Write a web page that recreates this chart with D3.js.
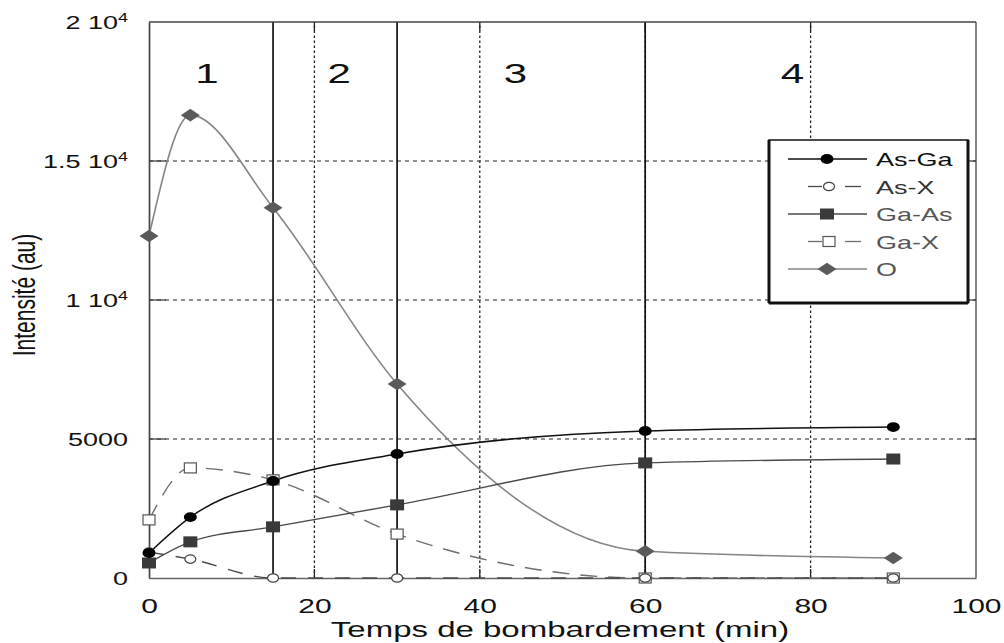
<!DOCTYPE html>
<html>
<head>
<meta charset="utf-8">
<script src="https://cdn.jsdelivr.net/npm/d3@7"></script>
<style>
  html, body { margin: 0; padding: 0; background: #fff; }
  svg { display: block; font-family: "Liberation Sans", Arial, Helvetica, sans-serif; }
</style>
</head>
<body>
<svg id="chart" width="1004" height="643"></svg>
<script>
// Bombardment time (min) at which each intensity was measured
const times = [0, 5, 15, 30, 60, 90];

// Intensities (au) per bond type
const asGa = [900, 2190, 3490, 4460, 5290, 5430];
const asX  = [930, 680, 0, 0, 0, 0];
const gaAs = [540, 1300, 1840, 2630, 4140, 4280];
const gaX  = [2090, 3960, 3530, 1580, 0, 0];
const oxy  = [12300, 16650, 13320, 6980, 960, 720];

const seriesNames = ["As-Ga", "As-X", "Ga-As", "Ga-X", "O"];

// Axis ticks and labels (mantissa, exponent)
const xTicks = [0, 20, 40, 60, 80, 100];
const yTicks = [0, 5000, 10000, 15000, 20000];
const yTickLabels = [["0", ""], ["5000", ""], ["1 10", "4"], ["1.5 10", "4"], ["2 10", "4"]];

// Phase boundaries (min) and phase labels with their centre positions (min)
const phaseBounds = [15, 30, 60];
const phaseLabels = ["1", "2", "3", "4"];
const phaseLabelAt = [7, 23, 44.3, 77.8];

// Text in this figure is set in a horizontally widened face
const SX = 1.5;

const svg = d3.select("#chart");
const x = d3.scaleLinear().domain([0, 100]).range([149, 976]);
const y = d3.scaleLinear().domain([0, 20000]).range([578, 22]);

// ---- grid ----
const grid = svg.append("g");
grid.selectAll("line.h").data(yTicks.filter(v => v > 0 && v < 20000)).join("line")
  .attr("x1", x(0)).attr("x2", x(100))
  .attr("y1", d => y(d)).attr("y2", d => y(d))
  .attr("stroke", "#222").attr("stroke-width", 1).attr("stroke-dasharray", "4,4");
grid.selectAll("line.v").data(xTicks.filter(v => v > 0 && v < 100)).join("line")
  .attr("x1", d => x(d)).attr("x2", d => x(d))
  .attr("y1", y(0)).attr("y2", y(20000))
  .attr("stroke", "#222").attr("stroke-width", 1.3).attr("stroke-dasharray", "2.5,2.5");

// inward tick marks
grid.selectAll("line.tl").data(yTicks.slice(1, -1)).join("line")
  .attr("x1", x(0)).attr("x2", x(0) + 17)
  .attr("y1", d => y(d)).attr("y2", d => y(d))
  .attr("stroke", "#333").attr("stroke-width", 1.2);
grid.selectAll("line.tr").data(yTicks.slice(1, -1)).join("line")
  .attr("x1", x(100) - 8).attr("x2", x(100))
  .attr("y1", d => y(d)).attr("y2", d => y(d))
  .attr("stroke", "#333").attr("stroke-width", 1.2);
grid.selectAll("line.tb").data(xTicks.slice(1, -1)).join("line")
  .attr("x1", d => x(d)).attr("x2", d => x(d))
  .attr("y1", y(0)).attr("y2", y(0) - 9)
  .attr("stroke", "#222").attr("stroke-width", 1.3);
grid.selectAll("line.tt").data(xTicks.slice(1, -1)).join("line")
  .attr("x1", d => x(d)).attr("x2", d => x(d))
  .attr("y1", y(20000)).attr("y2", y(20000) + 9)
  .attr("stroke", "#222").attr("stroke-width", 1.3);

// phase separators
grid.selectAll("line.p").data(phaseBounds).join("line")
  .attr("x1", d => x(d)).attr("x2", d => x(d))
  .attr("y1", y(0)).attr("y2", y(20000))
  .attr("stroke", "#111").attr("stroke-width", 1.7);

// top and right frame
svg.append("line").attr("x1", x(0)).attr("x2", x(100)).attr("y1", y(20000)).attr("y2", y(20000))
  .attr("stroke", "#444").attr("stroke-width", 1.3);
svg.append("line").attr("x1", x(100)).attr("x2", x(100)).attr("y1", y(20000)).attr("y2", y(0))
  .attr("stroke", "#444").attr("stroke-width", 1.3);

// phase labels
svg.append("g").selectAll("text").data(phaseLabels).join("text")
  .attr("transform", (d, i) => `translate(${x(phaseLabelAt[i])},83) scale(${SX},1)`)
  .attr("text-anchor", "middle").attr("font-size", 28).attr("fill", "#111")
  .text(d => d);

// ---- series ----
const line = d3.line()
  .x((d, i) => x(times[i]))
  .y(d => y(d))
  .curve(d3.curveMonotoneX);

const markerDraw = {
  dot: g => g.append("ellipse").attr("rx", 6.5).attr("ry", 4.9).attr("fill", "#000"),
  ring: g => g.append("ellipse").attr("rx", 5.5).attr("ry", 4.2).attr("fill", "#fff")
              .attr("stroke", "#444").attr("stroke-width", 1.2),
  block: g => g.append("rect").attr("x", -7).attr("y", -5.5).attr("width", 14).attr("height", 11)
              .attr("fill", "#3a3a3a"),
  box: g => g.append("rect").attr("x", -6).attr("y", -5).attr("width", 12).attr("height", 10)
              .attr("fill", "#fff").attr("stroke", "#555").attr("stroke-width", 1.2),
  diamond: g => g.append("path").attr("d", "M0,-6.3L9.5,0L0,6.3L-9.5,0Z").attr("fill", "#5a5a5a")
};

const series = [
  { name: seriesNames[3], values: gaX,  color: "#6e6e6e", width: 1.4, dash: "17,11", marker: "box" },
  { name: seriesNames[1], values: asX,  color: "#4a4a4a", width: 1.4, dash: "15,12", marker: "ring" },
  { name: seriesNames[4], values: oxy,  color: "#858585", width: 1.6, dash: null,    marker: "diamond" },
  { name: seriesNames[2], values: gaAs, color: "#4a4a4a", width: 1.4, dash: null,    marker: "block" },
  { name: seriesNames[0], values: asGa, color: "#111",    width: 1.5, dash: null,    marker: "dot" }
];

const plot = svg.append("g");
series.forEach(s => {
  plot.append("path")
    .attr("d", line(s.values))
    .attr("fill", "none")
    .attr("stroke", s.color)
    .attr("stroke-width", s.width)
    .attr("stroke-dasharray", s.dash);
});

// ---- axes (left and bottom) ----
const xAxis = svg.append("g").attr("transform", `translate(0,${y(0)})`)
  .call(d3.axisBottom(x).tickValues(xTicks).tickSize(0).tickFormat(d3.format("d")));
xAxis.select(".domain").attr("stroke", "#666").attr("stroke-width", 1.7);
xAxis.selectAll(".tick text")
  .attr("y", 0).attr("dy", 0)
  .attr("transform", `translate(0,35) scale(${SX},1)`)
  .attr("font-size", 20).attr("fill", "#111").attr("font-family", null);

const yAxis = svg.append("g").attr("transform", `translate(${x(0)},0)`)
  .call(d3.axisLeft(y).tickValues(yTicks).tickSize(0).tickFormat(""));
yAxis.select(".domain").attr("stroke", "#444").attr("stroke-width", 1.7);
yAxis.selectAll(".tick text").remove();
yAxis.selectAll(".tick").each(function (d, i) {
  const t = d3.select(this).append("text")
    .attr("transform", `translate(-21,6) scale(${SX},1)`)
    .attr("text-anchor", "end").attr("font-size", 18).attr("fill", "#111");
  t.append("tspan").text(yTickLabels[i][0]);
  if (yTickLabels[i][1]) {
    t.append("tspan").attr("dy", -7).attr("font-size", 12).text(yTickLabels[i][1]);
  }
});

// markers drawn above the axes
series.forEach(s => {
  plot.raise();
  const mg = plot.append("g");
  s.values.forEach((v, i) => {
    const g = mg.append("g").attr("transform", `translate(${x(times[i])},${y(v)})`);
    markerDraw[s.marker](g);
  });
});

// axis titles
svg.append("text")
  .attr("transform", `translate(560,637) scale(${SX},1)`)
  .attr("text-anchor", "middle").attr("font-size", 22).attr("fill", "#111")
  .text("Temps de bombardement (min)");
svg.append("text")
  .attr("transform", `translate(35,295) scale(${SX},1) rotate(-90)`)
  .attr("text-anchor", "middle").attr("font-size", 21).attr("fill", "#111")
  .text("Intensité (au)");

// ---- legend ----
const lg = svg.append("g").attr("transform", "translate(769,140)");
const lw = 199, lh = 163;
lg.append("rect").attr("width", lw).attr("height", lh)
  .attr("fill", "#fff").attr("stroke", "#111").attr("stroke-width", 1.5);
lg.append("line").attr("x1", 0).attr("x2", 0).attr("y1", 0).attr("y2", lh)
  .attr("stroke", "#111").attr("stroke-width", 3);
lg.append("line").attr("x1", lw).attr("x2", lw).attr("y1", 0).attr("y2", lh)
  .attr("stroke", "#111").attr("stroke-width", 3);
lg.append("line").attr("x1", 0).attr("x2", lw).attr("y1", lh).attr("y2", lh)
  .attr("stroke", "#111").attr("stroke-width", 3);

const legendRows = [
  { s: series[4], text: "#111" },
  { s: series[1], text: "#333" },
  { s: series[3], text: "#555" },
  { s: series[0], text: "#555" },
  { s: series[2], text: "#555" }
];
legendRows.forEach((r, i) => {
  const ry = 19 + i * 27.5;
  const row = lg.append("g").attr("transform", `translate(0,${ry})`);
  if (r.s.dash) {
    row.append("line").attr("x1", 39).attr("x2", 53).attr("y1", 0).attr("y2", 0)
      .attr("stroke", r.s.color).attr("stroke-width", 1.3);
    row.append("line").attr("x1", 76).attr("x2", 92).attr("y1", 0).attr("y2", 0)
      .attr("stroke", r.s.color).attr("stroke-width", 1.3);
  } else {
    row.append("line").attr("x1", 19).attr("x2", 98).attr("y1", 0).attr("y2", 0)
      .attr("stroke", r.s.color).attr("stroke-width", 1.3);
  }
  const m = row.append("g").attr("transform", `translate(${r.s.dash ? 60 : 58},0)`);
  markerDraw[r.s.marker](m);
  row.append("text")
    .attr("transform", `translate(107,7) scale(${SX},1)`)
    .attr("font-size", 18).attr("fill", r.text)
    .text(r.s.name);
});
</script>
</body>
</html>
